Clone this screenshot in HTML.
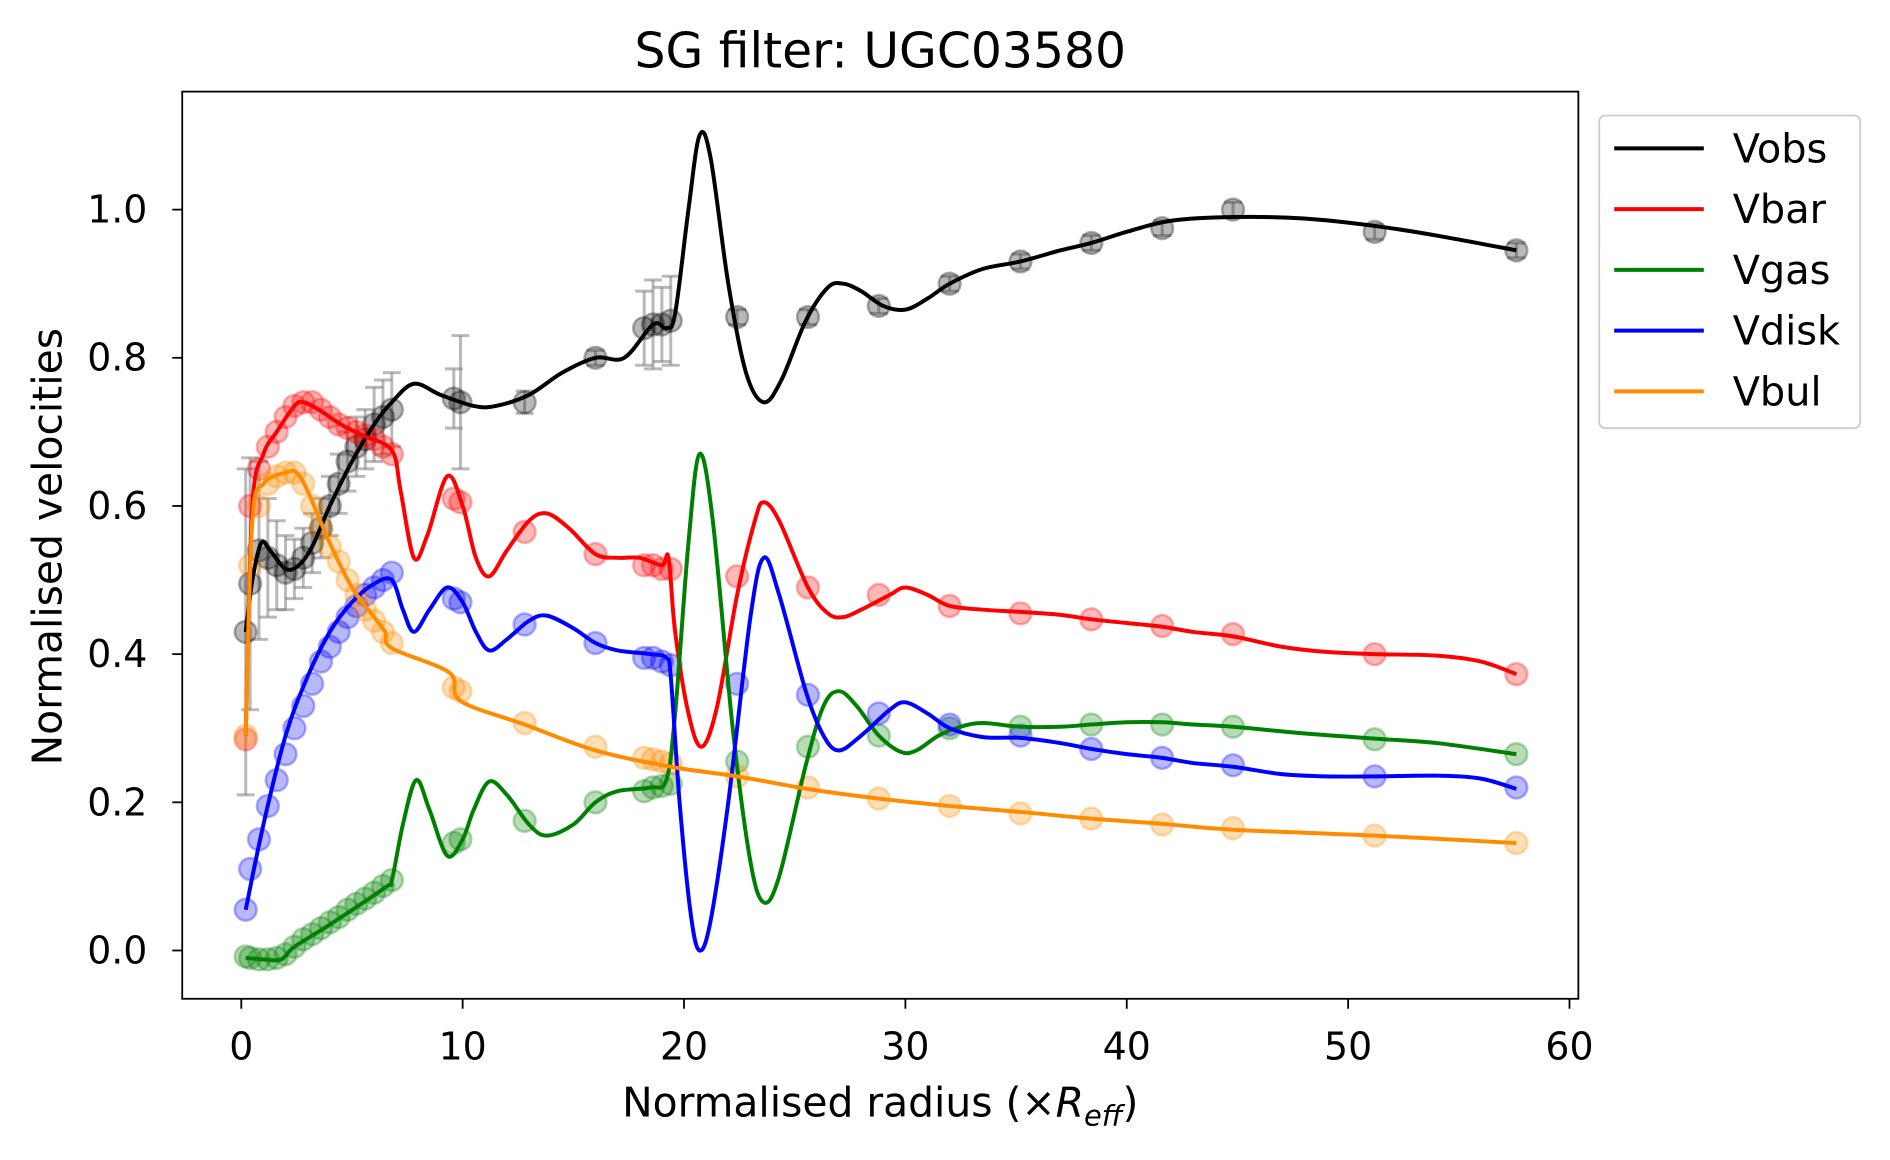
<!DOCTYPE html>
<html><head><meta charset="utf-8">
<style>
body{margin:0;background:#fff;}
svg text{font-family:"DejaVu Sans","Liberation Sans",sans-serif;}
</style></head>
<body>
<svg id="chart" width="1890" height="1155" viewBox="0 0 1890 1155" xmlns="http://www.w3.org/2000/svg">
<rect width="1890" height="1155" fill="#fff"/>
<g transform="scale(0.9958)">
<text x="884" y="68" font-size="49" text-anchor="middle">SG filter: UGC03580</text>
<g id="plot"></g>
<rect x="183" y="92" width="1402" height="911" fill="none" stroke="#000" stroke-width="1.8"/>
<g id="axes"></g>
<text x="884" y="1121" font-size="41" text-anchor="middle">Normalised radius (×<tspan font-style="italic">R</tspan><tspan font-style="italic" font-size="29" dy="9">eff</tspan><tspan dy="-9">)</tspan></text>
<text transform="translate(62,549) rotate(-90)" font-size="41" text-anchor="middle">Normalised velocities</text>
<g>
<rect x="1606" y="116" width="262" height="314" rx="6" fill="#fff" stroke="#ccc" stroke-width="1.8"/>
<line x1="1621" y1="149" x2="1711" y2="149" stroke="#000" stroke-width="4"/><text x="1740" y="163" font-size="40">Vobs</text>
<line x1="1621" y1="210" x2="1711" y2="210" stroke="#ff0000" stroke-width="4"/><text x="1740" y="224" font-size="40">Vbar</text>
<line x1="1621" y1="271" x2="1711" y2="271" stroke="#008000" stroke-width="4"/><text x="1740" y="285" font-size="40">Vgas</text>
<line x1="1621" y1="332" x2="1711" y2="332" stroke="#0000ff" stroke-width="4"/><text x="1740" y="346" font-size="40">Vdisk</text>
<line x1="1621" y1="393" x2="1711" y2="393" stroke="#ff8c00" stroke-width="4"/><text x="1740" y="407" font-size="40">Vbul</text>
</g>
</g>
</svg>
<script>
const xTicks=[0,10,20,30,40,50,60];
const yTicks=[0.0,0.2,0.4,0.6,0.8,1.0];
const ptX=[0.2,0.4,0.8,1.2,1.6,2,2.4,2.8,3.2,3.6,4,4.4,4.8,5.2,5.6,6,6.4,6.8,9.6,9.9,12.8,16,18.2,18.6,19,19.4,22.4,25.6,28.8,32,35.2,38.4,41.6,44.8,51.2,57.6];
const obsY=[0.43,0.495,0.54,0.53,0.52,0.51,0.515,0.53,0.55,0.57,0.6,0.63,0.66,0.68,0.69,0.71,0.72,0.73,0.745,0.74,0.74,0.8,0.84,0.845,0.845,0.85,0.855,0.855,0.87,0.9,0.93,0.955,0.975,1.0,0.97,0.945];
const obsErr=[0.22,0.17,0.12,0.08,0.06,0.05,0.04,0.04,0.04,0.04,0.04,0.04,0.04,0.04,0.04,0.05,0.05,0.05,0.04,0.09,0.015,0.01,0.05,0.06,0.05,0.06,0.01,0.01,0.01,0.01,0.01,0.01,0.01,0.01,0.01,0.01];
const barY=[0.285,0.6,0.65,0.68,0.7,0.72,0.735,0.74,0.74,0.73,0.72,0.71,0.705,0.7,0.695,0.69,0.68,0.67,0.61,0.605,0.565,0.535,0.52,0.52,0.515,0.515,0.505,0.49,0.48,0.465,0.455,0.447,0.438,0.427,0.4,0.373];
const gasY=[-0.008,-0.01,-0.012,-0.012,-0.01,-0.005,0.005,0.015,0.022,0.03,0.038,0.045,0.055,0.063,0.07,0.078,0.087,0.095,0.145,0.15,0.175,0.2,0.215,0.22,0.222,0.225,0.255,0.275,0.29,0.3,0.302,0.305,0.305,0.302,0.285,0.265];
const diskY=[0.055,0.11,0.15,0.195,0.23,0.265,0.3,0.33,0.36,0.39,0.41,0.43,0.45,0.465,0.48,0.49,0.5,0.51,0.475,0.47,0.44,0.415,0.395,0.395,0.39,0.385,0.36,0.345,0.32,0.305,0.29,0.272,0.26,0.25,0.235,0.22];
const bulY=[0.29,0.52,0.6,0.63,0.64,0.645,0.645,0.63,0.6,0.57,0.545,0.525,0.5,0.48,0.46,0.445,0.43,0.415,0.355,0.35,0.307,0.275,0.26,0.258,0.255,0.252,0.235,0.22,0.205,0.195,0.185,0.178,0.17,0.165,0.155,0.145];

const obsLX=[0.2,0.5,0.9,1.3,2,2.6,3.2,4,5,6,6.8,7.8,9,10.5,11.5,13,14.5,16,17.3,18.6,19.2,19.6,20.2,20.7,21.2,22,22.8,23.6,24.4,25.5,26.5,27.2,28,29,30,31,32,33.5,35.2,37,38.4,40,42,44.8,48,51.2,54,57.6];
const obsLY=[0.43,0.5,0.55,0.54,0.515,0.52,0.545,0.6,0.66,0.71,0.74,0.765,0.75,0.735,0.735,0.75,0.78,0.8,0.8,0.845,0.84,0.86,1.0,1.1,1.07,0.9,0.78,0.74,0.77,0.85,0.895,0.9,0.89,0.87,0.865,0.88,0.9,0.92,0.93,0.945,0.955,0.97,0.985,0.99,0.988,0.978,0.965,0.945];
const barLX=[0.2,0.5,1,1.6,2.4,2.8,3.5,4.5,5.5,6.8,7.2,7.8,8.4,9.3,10,10.6,11.2,12,13,13.8,14.8,16,17,18,19,19.3,19.6,20.2,20.8,21.5,22.4,23.2,23.6,24.3,25.6,26.5,27.2,28,29.3,30,31,32,33.5,35.2,37,38.4,40,41.6,43,44.8,47,49,51.2,54,56,57.6];
const barLY=[0.29,0.6,0.67,0.7,0.735,0.74,0.73,0.71,0.695,0.675,0.62,0.53,0.56,0.64,0.6,0.53,0.505,0.54,0.58,0.59,0.57,0.535,0.53,0.53,0.52,0.53,0.43,0.32,0.275,0.33,0.48,0.58,0.605,0.58,0.49,0.455,0.45,0.46,0.48,0.49,0.48,0.465,0.46,0.457,0.453,0.447,0.442,0.437,0.43,0.424,0.41,0.403,0.4,0.398,0.39,0.373];
const gasLX=[0.2,1,1.8,2.4,4,6.5,6.8,7.3,7.9,8.5,9.3,10,10.5,11.2,12,13,13.8,15,16,17,18.5,19.2,19.6,20.2,20.7,21.3,22.2,23,23.6,24.3,25.5,26.3,27,27.8,28.8,29.8,30.5,31.5,32.5,33.5,35.2,37,38.4,40,41.6,43,44.8,48,51.2,54,57.6];
const gasLY=[-0.01,-0.012,-0.012,0.005,0.035,0.085,0.095,0.17,0.23,0.19,0.128,0.15,0.19,0.228,0.21,0.17,0.155,0.17,0.2,0.215,0.22,0.23,0.32,0.55,0.67,0.58,0.3,0.12,0.065,0.1,0.25,0.33,0.35,0.33,0.29,0.268,0.27,0.29,0.302,0.307,0.302,0.302,0.305,0.308,0.308,0.305,0.302,0.293,0.286,0.28,0.265];
const diskLX=[0.2,1,2,3,4,5,6,6.8,7.3,7.8,8.5,9.3,10,10.6,11.2,12,13,13.8,15,16,17,18.5,19.2,19.4,19.8,20.3,20.7,21.2,22,23,23.6,24.3,25.5,26.3,27,28,29.3,30,31,32,33.5,35.2,37,38.4,40,41.6,43,44.8,47,49,51.2,54,56,57.6];
const diskLY=[0.055,0.17,0.29,0.37,0.43,0.47,0.495,0.5,0.46,0.43,0.46,0.49,0.47,0.43,0.405,0.42,0.445,0.452,0.435,0.415,0.405,0.4,0.395,0.37,0.2,0.05,0.0,0.04,0.2,0.45,0.53,0.48,0.35,0.29,0.27,0.29,0.325,0.335,0.32,0.3,0.288,0.287,0.28,0.272,0.265,0.26,0.253,0.248,0.238,0.235,0.235,0.236,0.232,0.218];
const bulLX=[0.2,0.5,1,2,2.5,3,4,5,6,6.5,6.8,9.4,9.9,12.8,16,19.4,22.4,25.6,28.8,32,35.2,38.4,41.6,44.8,51.2,57.6];
const bulLY=[0.29,0.58,0.63,0.645,0.645,0.62,0.55,0.49,0.45,0.43,0.408,0.375,0.337,0.305,0.27,0.248,0.235,0.218,0.205,0.195,0.187,0.178,0.171,0.163,0.155,0.145];

const NS='http://www.w3.org/2000/svg';
const X0=242.3,XS=22.23,Y0=954.5,YS=744;
function sx(v){return X0+v*XS;}
function sy(v){return Y0-v*YS;}
function mk(tag,attrs,parent){const e=document.createElementNS(NS,tag);for(const k in attrs)e.setAttribute(k,attrs[k]);parent.appendChild(e);return e;}
const axes=document.getElementById('axes');
const plot=document.getElementById('plot');
xTicks.forEach(t=>{
  const l=mk('line',{x1:sx(t),x2:sx(t),y1:1003,y2:1013,stroke:'#000','stroke-width':1.8},axes);
  
  
  const tx=mk('text',{x:sx(t),y:1064,'font-size':38,'text-anchor':'middle'},axes);
  tx.textContent=t;
  
  
});
yTicks.forEach(t=>{
  const l=mk('line',{x1:173,x2:183,y1:sy(t),y2:sy(t),stroke:'#000','stroke-width':1.8},axes);
  
  
  const tx=mk('text',{x:148,y:sy(t)+13,'font-size':38,'text-anchor':'end'},axes);
  tx.textContent=t.toFixed(1);
  
  
});
function path(xs,ys){
  const p=xs.map((x,i)=>[sx(x),sy(ys[i])]);
  let d='M'+p[0][0]+','+p[0][1];
  for(let i=0;i<p.length-1;i++){
    const a=p[Math.max(i-1,0)],b=p[i],c=p[i+1],e=p[Math.min(i+2,p.length-1)];
    const c1=[b[0]+(c[0]-a[0])/6,b[1]+(c[1]-a[1])/6],c2=[c[0]-(e[0]-b[0])/6,c[1]-(e[1]-b[1])/6];
    d+=' C'+c1[0]+','+c1[1]+' '+c2[0]+','+c2[1]+' '+c[0]+','+c[1];
  }
  return d;
}
ptX.forEach((x,i)=>{
  const g=mk('g',{stroke:'#808080','stroke-opacity':0.55,'stroke-width':3},plot);
  
  
  const lo=sy(obsY[i]-obsErr[i]),hi=sy(obsY[i]+obsErr[i]);
  mk('line',{x1:sx(x),x2:sx(x),y1:lo,y2:hi},g);
  mk('line',{x1:sx(x)-9,x2:sx(x)+9,y1:lo,y2:lo},g);
  mk('line',{x1:sx(x)-9,x2:sx(x)+9,y1:hi,y2:hi},g);
});
const series=[
  ['vobs',obsY,obsLX,obsLY,'#000000'],
  ['vbar',barY,barLX,barLY,'#ff0000'],
  ['vgas',gasY,gasLX,gasLY,'#008000'],
  ['vdisk',diskY,diskLX,diskLY,'#0000ff'],
  ['vbul',bulY,bulLX,bulLY,'#ff8c00']
];
series.forEach(s=>{
  ptX.forEach((x,i)=>{
    const c=mk('circle',{cx:sx(x),cy:sy(s[1][i]),r:11,fill:s[4],'fill-opacity':0.28,stroke:s[4],'stroke-opacity':0.3,'stroke-width':2.5},plot);
    
    
  });
});
series.forEach(s=>{
  const p=mk('path',{d:path(s[2],s[3]),fill:'none',stroke:s[4],'stroke-width':4,'stroke-linejoin':'round'},plot);
  
  
});
</script>
</body></html>
